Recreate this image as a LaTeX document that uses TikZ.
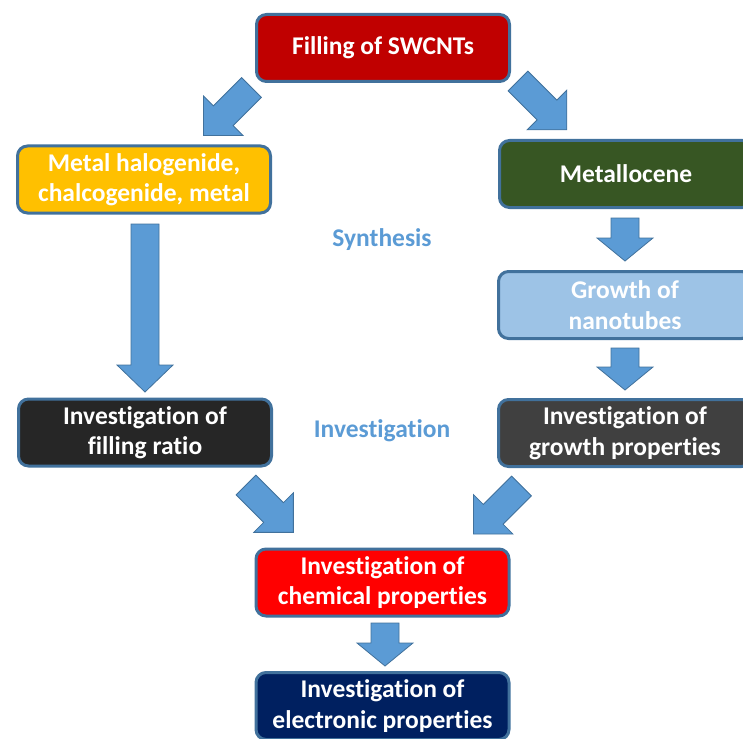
\documentclass[tikz,border=0pt]{standalone}
\usepackage{fontspec}
\setmainfont{Carlito}[Ligatures=NoCommon]
\usetikzlibrary{calc}
\definecolor{boxline}{HTML}{41719C}
\definecolor{arrowblue}{HTML}{5B9BD5}
\definecolor{darkred}{HTML}{C00000}
\definecolor{amber}{HTML}{FFC000}
\definecolor{olive}{HTML}{375623}
\definecolor{paleblue}{HTML}{9DC3E6}
\definecolor{nearblack}{HTML}{262626}
\definecolor{darkgray}{HTML}{404040}
\definecolor{navy}{HTML}{002060}

\begin{document}
\begin{tikzpicture}[x=1pt,y=-1pt,
    box/.style={draw=boxline,line width=3pt,rounded corners=10pt,minimum width=253pt,minimum height=67pt,
        align=center,text=white,font=\fontsize{25.5}{30.5}\selectfont\bfseries},
    stage/.style={text=arrowblue,font=\fontsize{25.5}{30.5}\selectfont\bfseries},
    arrowbody/.style={fill=arrowblue,draw=boxline,line width=0.8pt,line join=miter},
    pics/blockarr/.style 2 args={code={
        \draw[arrowbody] (0,-14) -- ({#1-#2},-14) -- ({#1-#2},-28) -- (#1,0)
            -- ({#1-#2},28) -- ({#1-#2},14) -- (0,14) -- cycle;}}]
    \path[use as bounding box] (0,0) rectangle (743,738);
    \clip (0,0) rectangle (743,738);

    \node[box,fill=darkred] (filling) at (383,48) {Filling of SWCNTs};
    \node[box,fill=amber] (halogenide) at (144,179.5) {Metal halogenide,\\chalcogenide, metal};
    \node[box,fill=olive] (metallocene) at (626,174) {Metallocene};
    \node[box,fill=paleblue] (growth) at (625,305) {Growth of\\nanotubes};
    \node[box,fill=nearblack] (ratio) at (145,432.5) {Investigation of\\filling ratio};
    \node[box,fill=darkgray] (growthprop) at (625,433) {Investigation of\\growth properties};
    \node[box,fill=red] (chemical) at (382.5,582.5) {Investigation of\\chemical properties};
    \node[box,fill=navy] (electronic) at (382.5,706) {Investigation of\\electronic properties};

    \node[stage] (synthesis) at (382,240) {Synthesis};
    \node[stage] (investigation) at (382,431) {Investigation};

    % block arrows
    \pic[rotate=-135] at (251.5,87.5) {blockarr={68}{28}};
    \pic[rotate=-45] at (518,81) {blockarr={69}{28}};
    \pic[rotate=-90] at (145,224) {blockarr={168}{27}};
    \pic[rotate=-90] at (625,218) {blockarr={43}{23}};
    \pic[rotate=-90] at (625,348) {blockarr={42}{23}};
    \pic[rotate=-45] at (246,485) {blockarr={67}{28}};
    \pic[rotate=-135] at (521.5,486) {blockarr={68}{28}};
    \pic[rotate=-90] at (385,623) {blockarr={43}{23}};
\end{tikzpicture}
\end{document}
